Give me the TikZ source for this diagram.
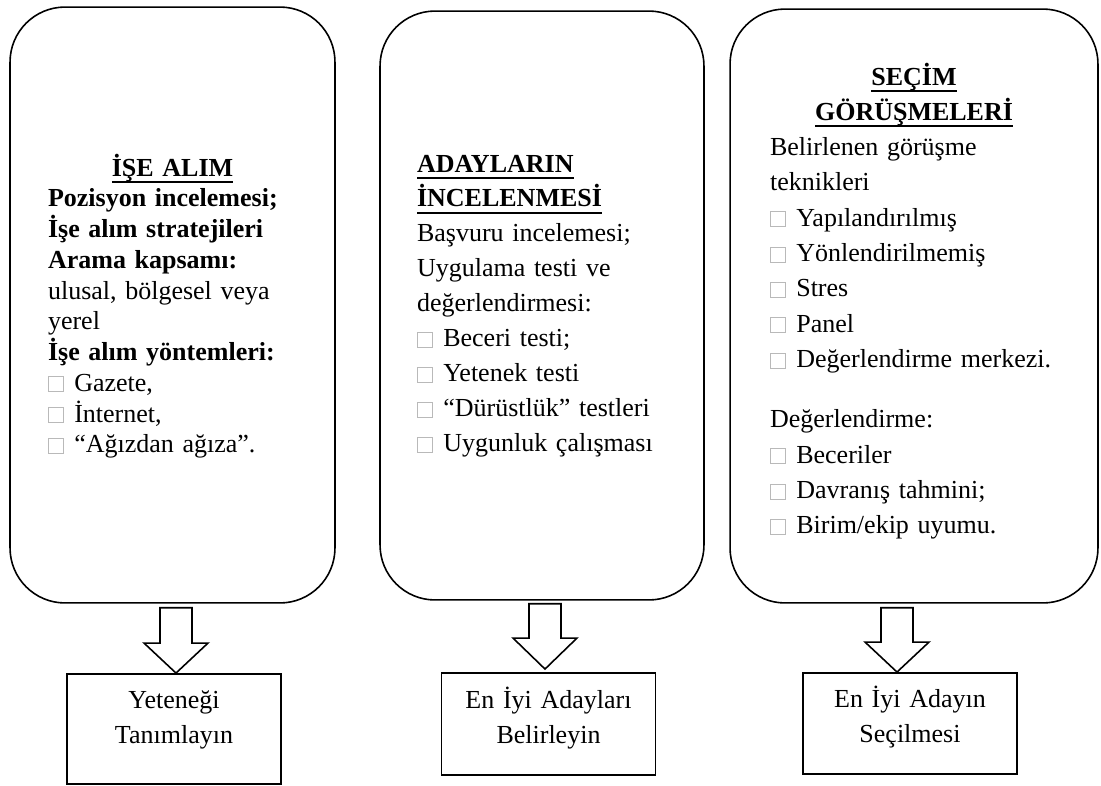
\documentclass[tikz,border=0pt]{standalone}
\usepackage{fontspec}
\setmainfont{Liberation Serif}
\usetikzlibrary{calc}

% small grey square used as list bullet
\newcommand{\kutu}{\textcolor{gray!55}{\fboxsep=0pt\fboxrule=0.5pt\fbox{\rule{0pt}{0.28cm}\rule{0.28cm}{0pt}}}\hspace{0.21cm}}
% heading underline
\newcommand{\altciz}[1]{\leavevmode\setbox0\hbox{#1}\rlap{\rule[-3.8pt]{\wd0}{1.2pt}}\box0}

\begin{document}
\begin{tikzpicture}[
    x=0.02cm, y=-0.02cm,
    asama/.style={draw, line width=0.9pt, rounded corners=1.1cm, align=left, inner ysep=0pt},
    sonuc/.style={draw, line width=1.1pt, align=center, text width=4.28cm, inner xsep=0pt, inner ysep=0.18cm, font=\fontsize{14.8pt}{20pt}\selectfont},
    okblok/.style={draw, line width=0.9pt, line join=miter}
]
\useasboundingbox (0,0) rectangle (1101,785);

% stage boxes
\node[asama, text width=4.98cm, inner xsep=0.76cm, text height=3.38cm, text depth=8.54cm, font=\fontsize{14.8pt}{17.5pt}\selectfont] (alim) at (172.5,305) {%
  {\centering\altciz{\textbf{İŞE ALIM}}\par}
  \textbf{Pozisyon incelemesi;}\\
  \textbf{İşe alım stratejileri}\\
  \textbf{Arama kapsamı:}\\
  ulusal, bölgesel veya\\
  yerel\\
  \textbf{İşe alım yöntemleri:}\\
  \kutu Gazete,\\
  \kutu İnternet,\\
  \kutu “Ağızdan ağıza”.};
\node[asama, text width=5.0cm, inner xsep=0.74cm, text height=3.22cm, text depth=8.56cm, font=\fontsize{14.8pt}{19.9pt}\selectfont] (aday) at (542,305.5) {%
  \altciz{\textbf{ADAYLARIN}}\\
  \altciz{\textbf{İNCELENMESİ}}\\
  Başvuru incelemesi;\\
  Uygulama testi ve\\
  değerlendirmesi:\\
  \kutu Beceri testi;\\
  \kutu Yetenek testi\\
  \kutu “Dürüstlük” testleri\\
  \kutu Uygunluk çalışması};
\node[asama, text width=5.76cm, inner xsep=0.8cm, text height=1.52cm, text depth=10.36cm, font=\fontsize{14.8pt}{20.1pt}\selectfont] (secim) at (914,306) {%
  {\centering\altciz{\textbf{SEÇİM}}\\\altciz{\textbf{GÖRÜŞMELERİ}}\par}
  Belirlenen görüşme\\
  teknikleri\\
  \kutu Yapılandırılmış\\
  \kutu Yönlendirilmemiş\\
  \kutu Stres\\
  \kutu Panel\\
  \kutu Değerlendirme merkezi.\\[0.5cm]
  Değerlendirme:\\
  \kutu Beceriler\\
  \kutu Davranış tahmini;\\
  \kutu Birim/ekip uyumu.};

% result boxes
\node[sonuc, text height=0.5cm, text depth=1.34cm] (alim-sonuc) at (174,729) {Yeteneği\\Tanımlayın};
\node[sonuc, text height=0.52cm, text depth=1.16cm] (aday-sonuc) at (548.5,724) {En İyi Adayları\\Belirleyin};
\node[sonuc, text height=0.5cm, text depth=1.16cm] (secim-sonuc) at (910,723.5) {En İyi Adayın\\Seçilmesi};

% block arrows
\coordinate (uc1) at ($(alim-sonuc.north)+(2,0)$);
\coordinate (uc2) at ($(aday-sonuc.north)+(-3.5,-3)$);
\coordinate (uc3) at ($(secim-sonuc.north)+(-13,0)$);
\draw[okblok] ($(alim.south -| uc1)+(-16,4)$) |- ($(uc1)+(-32,-30)$) -- (uc1) -- ($(uc1)+(32,-30)$) -| ($(alim.south -| uc1)+(16,4)$) -- cycle;
\draw[okblok] ($(aday.south -| uc2)+(-16,3)$) |- ($(uc2)+(-32,-31)$) -- (uc2) -- ($(uc2)+(32,-31)$) -| ($(aday.south -| uc2)+(16,3)$) -- cycle;
\draw[okblok] ($(secim.south -| uc3)+(-16,4)$) |- ($(uc3)+(-32,-30)$) -- (uc3) -- ($(uc3)+(32,-30)$) -| ($(secim.south -| uc3)+(16,4)$) -- cycle;

\end{tikzpicture}
\end{document}
